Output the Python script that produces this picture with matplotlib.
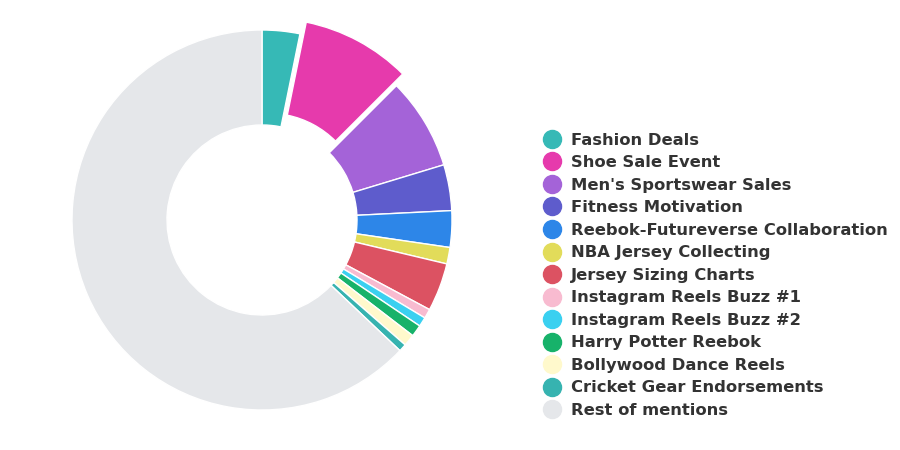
import matplotlib.pyplot as plt
from matplotlib.lines import Line2D

labels = ['Fashion Deals', 'Shoe Sale Event', "Men's Sportswear Sales", 'Fitness Motivation',
          'Reebok-Futureverse Collaboration', 'NBA Jersey Collecting', 'Jersey Sizing Charts',
          'Instagram Reels Buzz #1', 'Instagram Reels Buzz #2', 'Harry Potter Reebok',
          'Bollywood Dance Reels', 'Cricket Gear Endorsements', 'Rest of mentions']
shares = [3.2, 9.3, 7.8, 3.9, 3.1, 1.4, 4.1, 0.8, 0.8, 1.0, 1.0, 0.65, 62.9]
colors = ['#36b9b6', '#e63aac', '#a463d8', '#5e5ccc', '#2d86e8', '#e2dc5a', '#dc5262',
          '#f8bbd0', '#3ad0f0', '#17b26a', '#fff9cc', '#36b3b0', '#e5e7ea']
explode = [0, 0.07, 0, 0, 0, 0, 0, 0, 0, 0, 0, 0, 0]

fig = plt.figure(figsize=(9, 4.5), dpi=100)
# donut centre at (262, 220) px, radius 190 px
r = 200 / 190
ax = fig.add_axes([(262 - 200) / 900, (230 - 200) / 450, 400 / 900, 400 / 450])
ax.pie(shares, colors=colors, explode=explode, startangle=90, counterclock=False,
       radius=1, wedgeprops=dict(width=0.5, edgecolor='white', linewidth=1))
ax.set_xlim(-r, r)
ax.set_ylim(-r, r)
ax.set_aspect('equal')
ax.axis('off')

handles = [Line2D([], [], marker='o', linestyle='', markersize=13, markerfacecolor=c,
                  markeredgecolor=c) for c in colors]
fig.legend(handles, labels, loc='upper left', bbox_to_anchor=(537 / 900, 1 - 126 / 450),
           frameon=False, prop=dict(size=11.8, weight='bold'), labelcolor='#333333',
           labelspacing=0.46, handletextpad=0.66, handlelength=1.0, borderaxespad=0)

fig.savefig('out.png', dpi=100)
